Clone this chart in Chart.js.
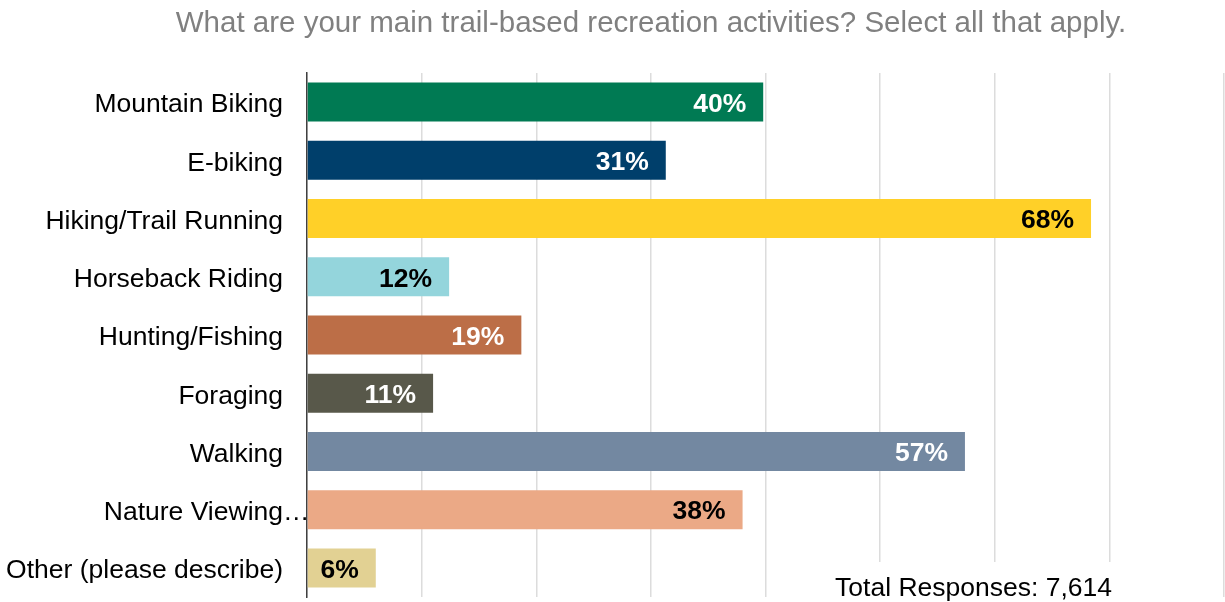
<!DOCTYPE html>
<html>
<head>
<meta charset="utf-8">
<script src="https://cdn.jsdelivr.net/npm/chart.js@4"></script>
<style>
  html, body { margin: 0; padding: 0; background: #ffffff; }
  #wrap { width: 1225px; height: 602px; position: relative; }
</style>
</head>
<body>
<div id="wrap"><canvas id="c" width="1225" height="602"></canvas></div>
<script>
const categories = [
  "Mountain Biking",
  "E-biking",
  "Hiking/Trail Running",
  "Horseback Riding",
  "Hunting/Fishing",
  "Foraging",
  "Walking",
  "Nature Viewing…",
  "Other (please describe)"
];
const percentValues = [39.8, 31.3, 68.4, 12.4, 18.7, 11.0, 57.4, 38.0, 6.0];
const barColors = ["#007A53", "#003F6B", "#FFD028", "#94D5DC", "#BC6E47", "#58584A", "#7388A1", "#EBA986", "#E2D193"];
const valueLabelColors = ["#ffffff", "#ffffff", "#000000", "#000000", "#ffffff", "#ffffff", "#ffffff", "#000000", "#000000"];
const axisTicks = [0, 10, 20, 30, 40, 50, 60, 70, 80];
const titleText = "What are your main trail-based recreation activities? Select all that apply.";
const footnoteText = "Total Responses: 7,614";

const FONT = "'Liberation Sans', Arial, sans-serif";
const FS = 26.5;

const valueLabelPlugin = {
  id: 'valueLabels',
  afterDatasetsDraw(chart) {
    const ctx = chart.ctx;
    const meta = chart.getDatasetMeta(0);
    ctx.save();
    ctx.font = "bold " + FS + "px " + FONT;
    ctx.textAlign = 'right';
    ctx.textBaseline = 'middle';
    meta.data.forEach((bar, i) => {
      ctx.fillStyle = valueLabelColors[i];
      ctx.fillText(Math.round(percentValues[i]) + "%", bar.x - 17, bar.y + 2.5);
    });
    ctx.restore();
  }
};

const extrasPlugin = {
  id: 'extras',
  afterDraw(chart) {
    const ctx = chart.ctx;
    const yScale = chart.scales.y;
    ctx.save();
    // title
    ctx.font = "29.5px " + FONT;
    ctx.fillStyle = "#808080";
    ctx.textAlign = 'center';
    ctx.textBaseline = 'middle';
    ctx.fillText(titleText, 651, 24);
    // ellipsis of truncated label
    categories.forEach((c, i) => {
      if (c.endsWith("…")) {
        ctx.font = FS + "px " + FONT;
        ctx.fillStyle = "#000000";
        ctx.textAlign = 'left';
        ctx.textBaseline = 'middle';
        const y = yScale.getPixelForValue(i);
        ctx.fillText("…", yScale.right - 24, y + 3);
      }
    });
    // footnote
    ctx.font = FS + "px " + FONT;
    ctx.textAlign = 'right';
    ctx.textBaseline = 'middle';
    const w = ctx.measureText(footnoteText).width;
    const xr = 1112, yc = 589;
    ctx.fillStyle = "#ffffff";
    ctx.fillRect(xr - w - 40, 562, w + 50, 40);
    ctx.fillStyle = "#000000";
    ctx.fillText(footnoteText, xr, yc);
    ctx.restore();
  }
};

new Chart(document.getElementById('c'), {
  type: 'bar',
  data: {
    labels: categories,
    datasets: [{
      data: percentValues,
      backgroundColor: barColors,
      borderWidth: 0,
      categoryPercentage: 1.0,
      barPercentage: 0.67
    }]
  },
  options: {
    indexAxis: 'y',
    responsive: false,
    animation: false,
    devicePixelRatio: 1,
    layout: { padding: { left: 0, right: 1, top: 73, bottom: 5 } },
    plugins: {
      legend: { display: false },
      tooltip: { enabled: false },
      title: { display: false }
    },
    scales: {
      x: {
        min: 0,
        max: 80,
        afterBuildTicks(scale) { scale.ticks = axisTicks.map(v => ({ value: v })); },
        afterFit(scale) { scale.height = 0; scale.paddingLeft = 0; scale.paddingRight = 0; },
        ticks: { display: false },
        grid: { color: "#dcdcdc", lineWidth: 1.5, drawTicks: false },
        border: { display: false }
      },
      y: {
        afterFit(scale) { scale.width = 307; scale.paddingTop = 0; scale.paddingBottom = 0; },
        ticks: {
          color: "#000000",
          font: { family: FONT, size: FS },
          padding: 24,
          labelOffset: 3,
          callback(value, index) {
            const c = categories[index];
            return c.endsWith("…") ? c.slice(0, -1) : c;
          }
        },
        grid: { display: false, drawTicks: false },
        border: { display: true, color: "#404040", width: 1.5 }
      }
    }
  },
  plugins: [valueLabelPlugin, extrasPlugin]
});
</script>
</body>
</html>
